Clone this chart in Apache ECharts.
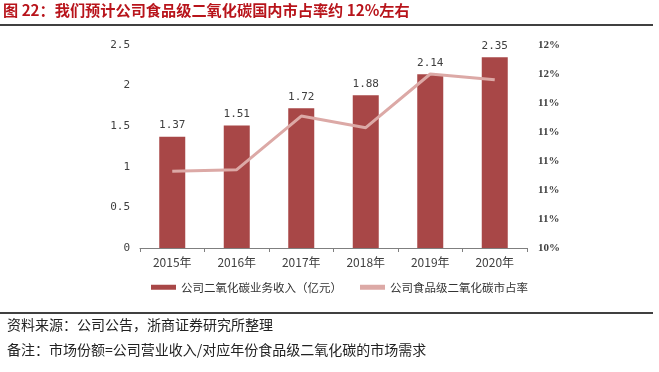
<!DOCTYPE html>
<html>
<head>
<meta charset="utf-8">
<script src="https://cdn.jsdelivr.net/npm/echarts@6/dist/echarts.min.js"></script>
<style>html,body{margin:0;padding:0;background:#fff;}#c{width:659px;height:372px;}</style>
</head>
<body>
<div id="c"></div>
<script>
const categories = ['2015年','2016年','2017年','2018年','2019年','2020年'];
const revenue = [1.37, 1.51, 1.72, 1.88, 2.14, 2.35];
const share = [10.93, 10.94, 11.31, 11.23, 11.60, 11.56];
const leftTicks = {min: 0, max: 2.5, interval: 0.5};
const rightTicks = {min: 10.4, max: 11.8, interval: 0.2};
const seriesNames = ['公司二氧化碳业务收入（亿元）', '公司食品级二氧化碳市占率'];
const titleText = '图 22：我们预计公司食品级二氧化碳国内市占率约 12%左右';
const noteLines = ['资料来源：公司公告，浙商证券研究所整理', '备注：市场份额=公司营业收入/对应年份食品级二氧化碳的市场需求'];

const chart = echarts.init(document.getElementById('c'), null, {renderer: 'canvas'});
const numFont = 'DejaVu Sans Mono';
const cjk = '"Noto Sans CJK SC"';
chart.setOption({
  animation: false,
  backgroundColor: '#fff',
  grid: {left: 140, right: 132, top: 45, bottom: 124},
  legend: {
    bottom: 74, left: 146,
    itemGap: 18, itemWidth: 25, itemHeight: 5,
    textStyle: {fontFamily: cjk, fontSize: 11.5, color: '#333'},
    data: [
      {name: seriesNames[0], icon: 'rect'},
      {name: seriesNames[1], icon: 'rect', itemStyle: {color: '#dca9a6'}}
    ]
  },
  xAxis: {
    type: 'category', data: categories,
    axisLine: {lineStyle: {color: '#7f7f7f'}},
    axisTick: {show: true, alignWithLabel: false, length: 4, lineStyle: {color: '#7f7f7f'}},
    axisLabel: {fontFamily: cjk, fontSize: 12, color: '#404040', margin: 8}
  },
  yAxis: [
    {type: 'value', min: leftTicks.min, max: leftTicks.max, interval: leftTicks.interval,
     splitLine: {show: false}, axisLine: {show: false}, axisTick: {show: false},
     axisLabel: {fontFamily: numFont, fontSize: 11, color: '#404040', margin: 10,
                 formatter: v => String(Math.round(v*10)/10)}},
    {type: 'value', min: rightTicks.min, max: rightTicks.max, interval: rightTicks.interval,
     splitLine: {show: false}, axisLine: {show: false}, axisTick: {show: false},
     axisLabel: {fontFamily: 'Liberation Serif', fontSize: 11, fontWeight: 'bold', color: '#404040', margin: 11,
                 formatter: v => Math.round(v) + '%'}}
  ],
  series: [
    {name: seriesNames[0], type: 'bar', data: revenue, barWidth: 26,
     itemStyle: {color: '#a84747'},
     label: {show: true, position: 'top', distance: 6, fontFamily: numFont, fontSize: 11, color: '#404040',
             formatter: p => p.value.toFixed(2)}},
    {name: seriesNames[1], type: 'line', yAxisIndex: 1, data: share,
     symbol: 'none', lineStyle: {color: '#dca9a6', width: 3}, itemStyle: {color: '#dca9a6'}}
  ],
  graphic: [
    {type: 'text', left: 3, top: 3, style: {text: titleText, fontFamily: cjk, fontWeight: 'bold', fontSize: 15.2, fill: '#b8141b'}},
    {type: 'line', shape: {x1: 0, y1: 25, x2: 653, y2: 25}, style: {stroke: '#000', lineWidth: 1.5}},
    {type: 'line', shape: {x1: 0, y1: 313, x2: 653, y2: 313}, style: {stroke: '#000', lineWidth: 1.5}},
    {type: 'text', left: 7, top: 318, style: {text: noteLines[0], fontFamily: cjk, fontSize: 14, fill: '#222'}},
    {type: 'text', left: 7, top: 343, style: {text: noteLines[1], fontFamily: cjk, fontSize: 14, fill: '#222'}}
  ]
});
</script>
</body>
</html>
